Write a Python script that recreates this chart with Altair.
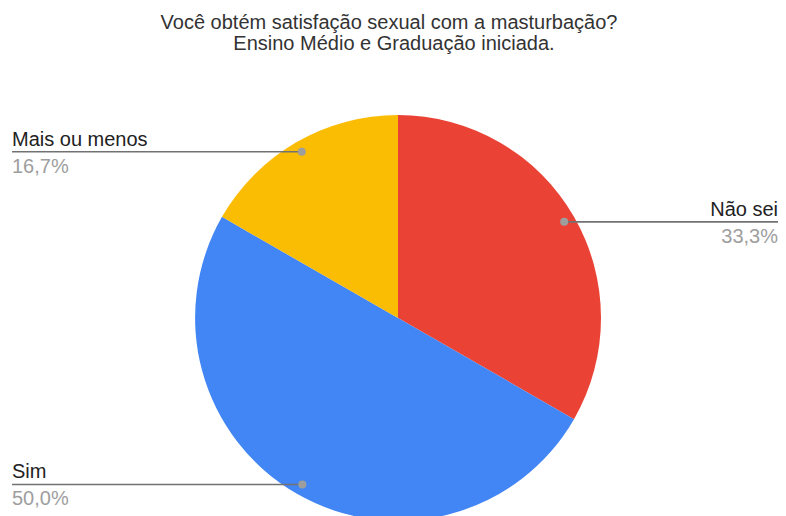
import math
import altair as alt
import pandas as pd

# ---- data ----
categories = ["Não sei", "Sim", "Mais ou menos"]
values = [33.3, 50.0, 16.7]
pct_labels = ["33,3%", "50,0%", "16,7%"]
colors = ["#EA4335", "#4285F4", "#FBBC04"]
title_lines = ["Você obtém satisfação sexual com a masturbação?",
               "Ensino Médio e Graduação iniciada."]

# ---- layout (pixels inside the chart) ----
W, H = 770, 508
CX, CY = 390, 310
R = 203
R_DOT = 192
LEFT_X, RIGHT_X = 4, 770
FONT = "Liberation Sans"

total = sum(values)
rows = []
start = 0.0
for i, (c, v, p) in enumerate(zip(categories, values, pct_labels)):
    mid = (start + v / 2) / total * 2 * math.pi
    start += v
    dx = CX + R_DOT * math.sin(mid)
    dy = CY - R_DOT * math.cos(mid)
    side = "left" if math.sin(mid) < 0 else "right"
    lx1, lx2 = (LEFT_X, dx) if side == "left" else (dx, RIGHT_X)
    tx = LEFT_X if side == "left" else RIGHT_X
    rows.append(dict(idx=i, cat=c, value=v, pct=p, dx=dx, dy=dy,
                     side=side, lx1=lx1, lx2=lx2, tx=tx))
df = pd.DataFrame(rows)

base = alt.Chart(df)

pie = base.mark_arc(outerRadius=R).encode(
    theta=alt.Theta("value:Q", stack=True),
    color=alt.Color("cat:N", scale=alt.Scale(domain=categories, range=colors), legend=None),
    order=alt.Order("idx:Q"),
    x=alt.value(CX),
    y=alt.value(CY),
)

xs = dict(scale=None, axis=None)

rules = base.mark_rule(color="#727272", strokeWidth=1.6).encode(
    x=alt.X("lx1:Q", **xs), x2="lx2:Q", y=alt.Y("dy:Q", **xs)
)

dots = base.mark_point(filled=True, size=64, color="#9e9e9e", opacity=1).encode(
    x=alt.X("dx:Q", **xs), y=alt.Y("dy:Q", **xs)
)

def side_text(side, align):
    sub = base.transform_filter(alt.datum.side == side)
    name = sub.mark_text(align=align, baseline="alphabetic", dy=-6, font=FONT,
                         fontSize=20, color="#222222").encode(
        x=alt.X("tx:Q", **xs), y=alt.Y("dy:Q", **xs), text="cat:N")
    pct = sub.mark_text(align=align, baseline="alphabetic", dy=21, font=FONT,
                        fontSize=20, color="#9e9e9e").encode(
        x=alt.X("tx:Q", **xs), y=alt.Y("dy:Q", **xs), text="pct:N")
    return name + pct

tdf = pd.DataFrame({"line": title_lines, "n": [0, 1]})
t1 = alt.Chart(tdf).transform_filter(alt.datum.n == 0).mark_text(
    align="center", baseline="alphabetic", font=FONT, fontSize=20, color="#333333"
).encode(x=alt.value(381), y=alt.value(21), text="line:N")
t2 = alt.Chart(tdf).transform_filter(alt.datum.n == 1).mark_text(
    align="center", baseline="alphabetic", font=FONT, fontSize=20, color="#333333"
).encode(x=alt.value(386), y=alt.value(42), text="line:N")

chart = alt.layer(
    pie, rules, dots, side_text("left", "left"), side_text("right", "right"), t1, t2
).properties(
    width=W, height=H, autosize=alt.AutoSizeParams(type="none"), padding=0,
    background="white",
).configure_view(stroke=None)

chart.save("out.html", embed_options={"renderer": "svg", "actions": False})
